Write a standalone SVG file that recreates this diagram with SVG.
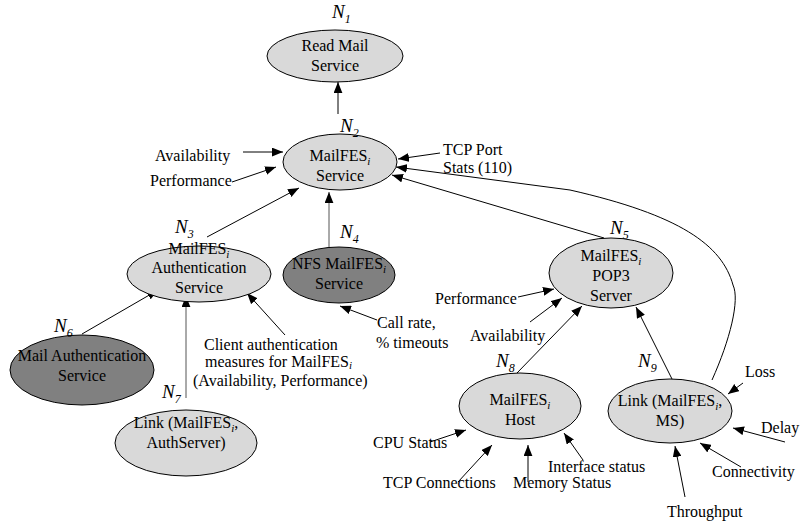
<svg xmlns="http://www.w3.org/2000/svg" width="800" height="527" viewBox="0 0 800 527">
<defs>
<marker id="ah" viewBox="0 0 10 8" refX="10" refY="4" markerWidth="11" markerHeight="9" orient="auto" markerUnits="userSpaceOnUse"><path d="M0,0 L10,4 L0,8 z" fill="#000"/></marker>
<style>
text{font-family:"Liberation Serif","Times New Roman",serif;font-size:16px;fill:#000}
.c{text-anchor:middle}
.nl{font-style:italic;font-size:19px}
.ns{font-size:12px}
.sub{font-style:italic;font-size:11px}
.light{fill:#d9d9d9;stroke:#000;stroke-width:1}
.dark{fill:#808080;stroke:#000;stroke-width:1}
.e{stroke:#000;stroke-width:1;fill:none;marker-end:url(#ah)}
.g{stroke:#555}
</style>
</defs>
<rect width="800" height="527" fill="#fff"/>

<g id="connectors">
<line class="e" x1="338" y1="114" x2="338" y2="82"/>
<line class="e" x1="243" y1="152" x2="283" y2="152"/>
<line class="e" x1="232" y1="182" x2="276" y2="167"/>
<line class="e" x1="440" y1="153" x2="398" y2="159"/>
<path class="e" d="M712,380 C730,340 740,300 733,285 C722,245 680,215 570,190 L396,167"/>
<line class="e" x1="604" y1="238" x2="392" y2="175"/>
<line class="e" x1="207" y1="237" x2="299" y2="188"/>
<line class="e g" x1="329" y1="250" x2="329" y2="192"/>
<line class="e" x1="377" y1="320" x2="340" y2="306"/>
<line class="e" x1="518" y1="297" x2="554" y2="289"/>
<line class="e" x1="530" y1="322" x2="562" y2="298"/>
<line class="e" x1="517" y1="373" x2="582" y2="306"/>
<line class="e" x1="673" y1="381" x2="636" y2="307"/>
<line class="e" x1="82" y1="334" x2="158" y2="290"/>
<line class="e g" x1="186" y1="398" x2="186" y2="296"/>
<line class="e" x1="285" y1="335" x2="247" y2="293"/>
<line class="e" x1="430" y1="442" x2="466" y2="430"/>
<line class="e" x1="458" y1="482" x2="492" y2="445"/>
<line class="e" x1="528" y1="482" x2="528" y2="445"/>
<line class="e" x1="583" y1="460" x2="564" y2="433"/>
<line class="e" x1="743" y1="383" x2="728" y2="394"/>
<line class="e" x1="785" y1="442" x2="733" y2="428"/>
<line class="e" x1="741" y1="467" x2="700" y2="443"/>
<line class="e" x1="685" y1="497" x2="675" y2="446"/>
</g>

<g id="N1">
<ellipse class="light" cx="335" cy="56" rx="68" ry="26"/>
<text class="c" x="335" y="51">Read Mail</text>
<text class="c" x="335" y="71">Service</text>
<text class="nl" x="332" y="18">N<tspan class="ns" dy="5">1</tspan></text>
</g>

<g id="N2">
<ellipse class="light" cx="340" cy="162" rx="57" ry="28"/>
<text class="c" x="340" y="161">MailFES<tspan class="sub" dy="4">i</tspan></text>
<text class="c" x="340" y="181">Service</text>
<text class="nl" x="340" y="132">N<tspan class="ns" dy="5">2</tspan></text>
</g>

<g id="N3">
<ellipse class="light" cx="199" cy="274" rx="72" ry="28"/>
<text class="c" x="199" y="254">MailFES<tspan class="sub" dy="4">i</tspan></text>
<text class="c" x="199" y="273">Authentication</text>
<text class="c" x="199" y="293">Service</text>
<text class="nl" x="175" y="233">N<tspan class="ns" dy="5">3</tspan></text>
</g>

<g id="N4">
<ellipse class="dark" cx="339" cy="275" rx="56" ry="28"/>
<text class="c" x="339" y="269">NFS MailFES<tspan class="sub" dy="4">i</tspan></text>
<text class="c" x="339" y="289">Service</text>
<text class="nl" x="340" y="238">N<tspan class="ns" dy="5">4</tspan></text>
</g>

<g id="N5">
<ellipse class="light" cx="611" cy="273" rx="62" ry="35"/>
<text class="c" x="611" y="261">MailFES<tspan class="sub" dy="4">i</tspan></text>
<text class="c" x="611" y="281">POP3</text>
<text class="c" x="611" y="301">Server</text>
<text class="nl" x="610" y="234">N<tspan class="ns" dy="5">5</tspan></text>
</g>

<g id="N6">
<ellipse class="dark" cx="82" cy="370" rx="72" ry="35"/>
<text class="c" x="82" y="361">Mail Authentication</text>
<text class="c" x="82" y="381">Service</text>
<text class="nl" x="54" y="332">N<tspan class="ns" dy="5">6</tspan></text>
</g>

<g id="N7">
<ellipse class="light" cx="186" cy="443" rx="71" ry="33"/>
<text class="c" x="186" y="428">Link (MailFES<tspan class="sub" dy="4">i</tspan><tspan dy="-4">,</tspan></text>
<text class="c" x="186" y="448">AuthServer)</text>
<text class="nl" x="162" y="398">N<tspan class="ns" dy="5">7</tspan></text>
</g>

<g id="N8">
<ellipse class="light" cx="520" cy="406" rx="61" ry="33"/>
<text class="c" x="520" y="405">MailFES<tspan class="sub" dy="4">i</tspan></text>
<text class="c" x="520" y="425">Host</text>
<text class="nl" x="496" y="367">N<tspan class="ns" dy="5">8</tspan></text>
</g>

<g id="N9">
<ellipse class="light" cx="670" cy="411" rx="62" ry="32"/>
<text class="c" x="670" y="406">Link (MailFES<tspan class="sub" dy="4">i</tspan><tspan dy="-4">,</tspan></text>
<text class="c" x="670" y="426">MS)</text>
<text class="nl" x="638" y="367">N<tspan class="ns" dy="5">9</tspan></text>
</g>

<g id="labels">
<text x="155" y="161">Availability</text>
<text x="150" y="186">Performance</text>
<text x="443" y="155">TCP Port</text>
<text x="443" y="173">Stats (110)</text>
<text x="377" y="328">Call rate,</text>
<text x="376" y="348">% timeouts</text>
<text x="435" y="304">Performance</text>
<text x="470" y="341">Availability</text>
<text x="204" y="350">Client authentication</text>
<text x="205" y="367">measures  for MailFES<tspan class="sub" dy="2">i</tspan></text>
<text x="193" y="386">(Availability, Performance)</text>
<text x="373" y="448">CPU Status</text>
<text x="383" y="488">TCP Connections</text>
<text x="513" y="488">Memory Status</text>
<text x="548" y="472">Interface status</text>
<text x="745" y="377">Loss</text>
<text x="761" y="433">Delay</text>
<text x="712" y="477">Connectivity</text>
<text x="667" y="517">Throughput</text>
</g>
</svg>
